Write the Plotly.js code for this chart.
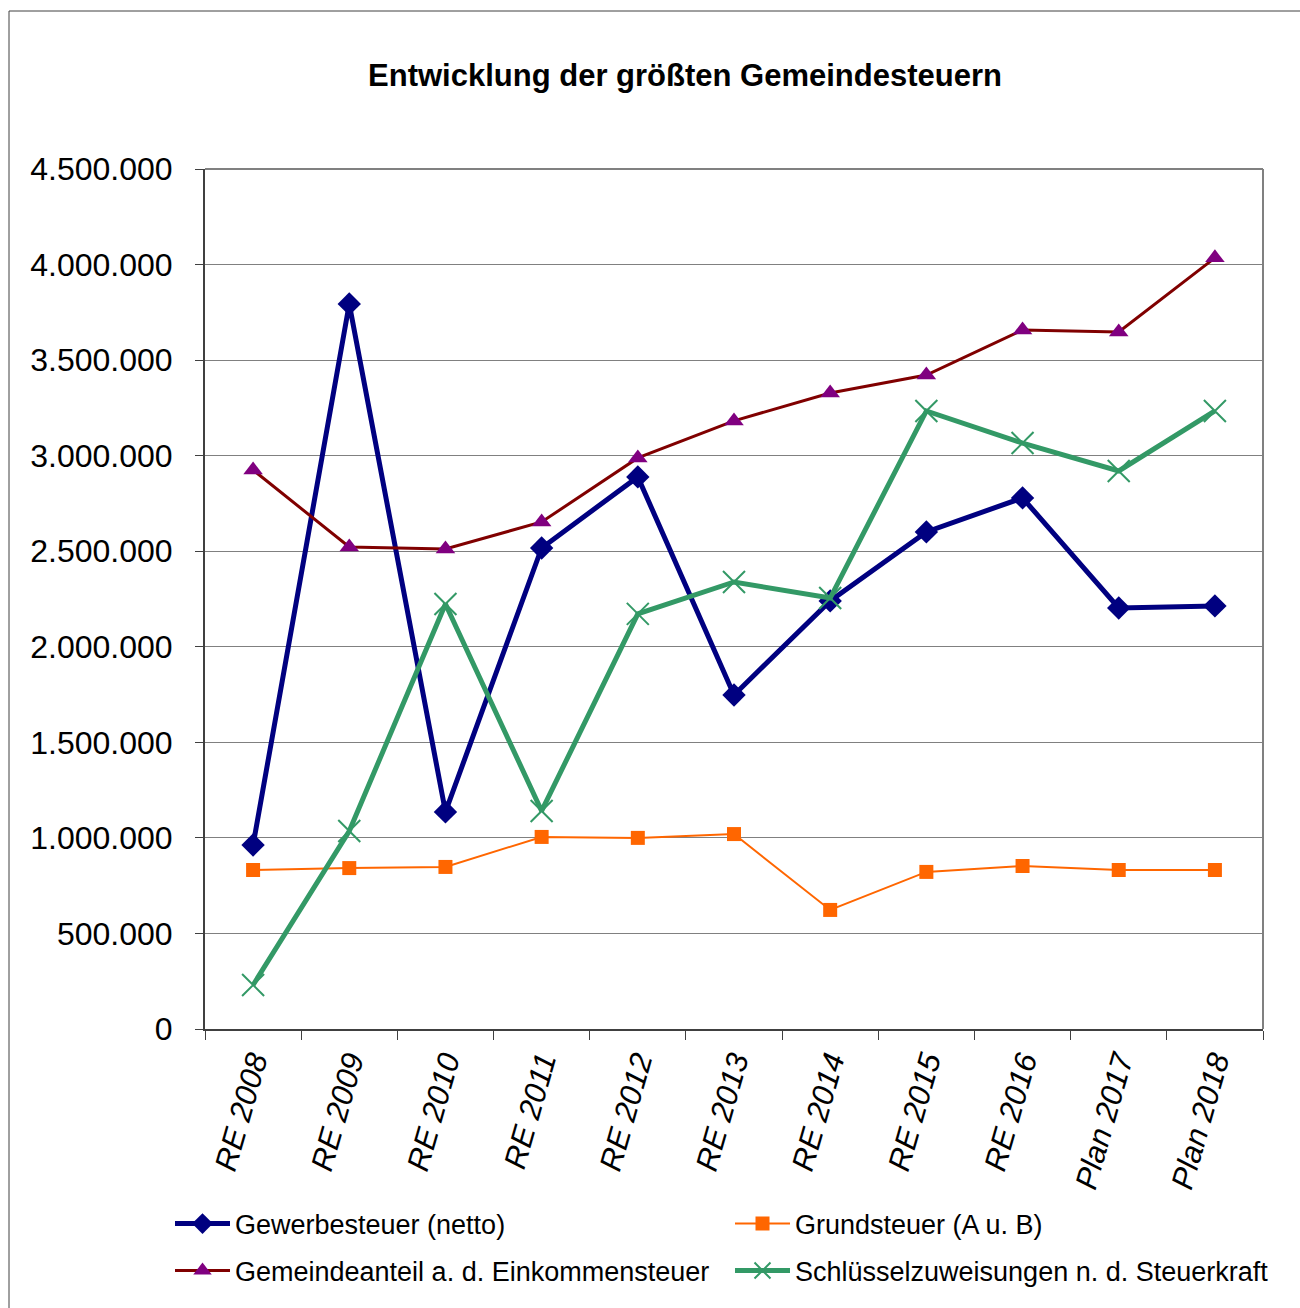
<!DOCTYPE html>
<html>
<head>
<meta charset="utf-8">
<script src="https://cdn.plot.ly/plotly-3.0.1.min.js"></script>
<style>
  html, body { margin: 0; padding: 0; background: #fff; }
  #chart { width: 1300px; height: 1308px; }
</style>
</head>
<body>
<div id="chart"></div>
<script>
const categories = ["RE 2008", "RE 2009", "RE 2010", "RE 2011", "RE 2012", "RE 2013", "RE 2014", "RE 2015", "RE 2016", "Plan 2017", "Plan 2018"];
const gewerbesteuer = [963000, 3794000, 1136000, 2517000, 2889000, 1748000, 2240000, 2601000, 2779000, 2203000, 2214000];
const grundsteuer = [832000, 842000, 848000, 1005000, 1000000, 1020000, 623000, 822000, 853000, 832000, 832000];
const einkommensteuer = [2925000, 2522000, 2512000, 2653000, 2988000, 3182000, 3328000, 3422000, 3658000, 3647000, 4035000];
const schluesselzuweisungen = [230000, 1036000, 2224000, 1141000, 2172000, 2339000, 2255000, 3234000, 3066000, 2920000, 3234000];
const yTicks = [0, 500000, 1000000, 1500000, 2000000, 2500000, 3000000, 3500000, 4000000, 4500000];
const seriesNames = ["Gewerbesteuer (netto)", "Grundsteuer (A u. B)", "Gemeindeanteil a. d. Einkommensteuer", "Schlüsselzuweisungen n. d. Steuerkraft"];

const W = 1300, H = 1308;
const L = 205, R = 1263, T = 169, B = 1029;
const pw = R - L, ph = B - T;
const px = v => (v - L) / pw;
const py = v => (B - v) / ph;
const FONT = 'Arial, Liberation Sans, sans-serif';

const traces = [
  {
    x: categories, y: gewerbesteuer, name: seriesNames[0], type: 'scatter', mode: 'lines+markers',
    line: {color: '#000080', width: 5}, marker: {symbol: 'diamond', size: 18, color: '#000080'},
    legend: 'legend'
  },
  {
    x: categories, y: grundsteuer, name: seriesNames[1], type: 'scatter', mode: 'lines+markers',
    line: {color: '#FF6600', width: 2}, marker: {symbol: 'square', size: 14, color: '#FF6600'},
    legend: 'legend2'
  },
  {
    x: categories, y: einkommensteuer, name: seriesNames[2], type: 'scatter', mode: 'lines+markers',
    line: {color: '#800000', width: 3}, marker: {symbol: 'triangle-up', size: 17, color: '#800080'},
    legend: 'legend3'
  },
  {
    x: categories, y: schluesselzuweisungen, name: seriesNames[3], type: 'scatter', mode: 'lines+markers',
    line: {color: '#339966', width: 5}, marker: {symbol: 'x-thin-open', size: 22, color: '#339966', line: {color: '#339966', width: 2}},
    legend: 'legend4'
  }
];

function leg(xPix, yPix) {
  return {
    orientation: 'h', xref: 'container', yref: 'container', xanchor: 'left', yanchor: 'middle',
    x: xPix / W, y: 1 - yPix / H,
    font: {family: FONT, size: 27, color: '#000'},
    itemwidth: 55, bgcolor: 'rgba(0,0,0,0)', borderwidth: 0, itemclick: false
  };
}

const layout = {
  width: W, height: H,
  margin: {l: L, r: W - R, t: T, b: H - B, pad: 0},
  paper_bgcolor: '#fff', plot_bgcolor: '#fff',
  font: {family: FONT, color: '#000'},
  separators: ',.',
  title: {
    text: '<b>Entwicklung der größten Gemeindesteuern</b>',
    font: {family: FONT, size: 31, color: '#000'},
    xref: 'container', yref: 'container', x: 685 / W, xanchor: 'center', y: 1 - 75 / H, yanchor: 'middle'
  },
  xaxis: {
    type: 'category', range: [-0.5, 10.5], fixedrange: true,
    showgrid: false, showline: true, linecolor: '#404040', linewidth: 2,
    ticks: 'outside', tickson: 'boundaries', ticklen: 9, tickcolor: '#404040', tickwidth: 1,
    tickangle: -74,
    tickfont: {family: FONT, size: 31, color: '#000', style: 'italic'},
    zeroline: false
  },
  yaxis: {
    range: [0, 4500000], tickvals: yTicks, tickformat: ',d', fixedrange: true,
    showgrid: true, gridcolor: '#808080', gridwidth: 1,
    showline: true, linecolor: '#404040', linewidth: 2,
    ticks: 'outside', ticklen: 8, tickcolor: '#404040', tickwidth: 1,
    ticklabelstandoff: 16,
    tickfont: {family: FONT, size: 32, color: '#000'},
    zeroline: false
  },
  showlegend: true,
  legend: leg(170, 1224),
  legend2: leg(730, 1224),
  legend3: leg(170, 1271),
  legend4: leg(730, 1271),
  shapes: [
    {type: 'line', xref: 'paper', yref: 'paper', x0: 1, x1: 1, y0: 0, y1: 1, line: {color: '#808080', width: 2}, layer: 'below'},
    {type: 'line', xref: 'paper', yref: 'paper', x0: 0, x1: 1, y0: 1, y1: 1, line: {color: '#808080', width: 2}, layer: 'below'},
    {type: 'rect', xref: 'paper', yref: 'paper', x0: px(9), x1: px(1330), y0: py(1340), y1: py(11), line: {color: '#404040', width: 1}, fillcolor: 'rgba(0,0,0,0)', layer: 'below'}
  ]
};

Plotly.newPlot('chart', traces, layout, {staticPlot: true, displayModeBar: false});
</script>
</body>
</html>
